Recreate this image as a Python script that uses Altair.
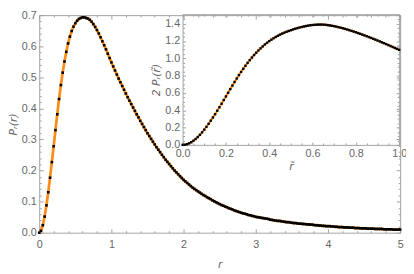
import altair as alt
import pandas as pd

# ---------------- data ----------------
r_main = [round(i * 0.025, 3) for i in range(201)]
p_main = [
    0.000, 0.006, 0.024, 0.052, 0.088, 0.130, 0.177, 0.227, 0.278, 0.330,
    0.381, 0.430, 0.475, 0.515, 0.551, 0.582, 0.609, 0.631, 0.649, 0.663,
    0.674, 0.682, 0.688, 0.691, 0.693, 0.693, 0.691, 0.689, 0.685, 0.679,
    0.671, 0.662, 0.652, 0.641, 0.629, 0.616, 0.603, 0.590, 0.576, 0.562,
    0.548, 0.535, 0.522, 0.509, 0.496, 0.484, 0.472, 0.460, 0.448, 0.436,
    0.425, 0.414, 0.403, 0.392, 0.381, 0.371, 0.360, 0.350, 0.340, 0.330,
    0.320, 0.311, 0.302, 0.293, 0.284, 0.275, 0.267, 0.259, 0.251, 0.243,
    0.235, 0.228, 0.221, 0.214, 0.207, 0.200, 0.194, 0.188, 0.182, 0.176,
    0.170, 0.165, 0.160, 0.155, 0.150, 0.145, 0.141, 0.137, 0.133, 0.129,
    0.125, 0.121, 0.118, 0.114, 0.111, 0.108, 0.104, 0.101, 0.098, 0.095,
    0.092, 0.089, 0.087, 0.084, 0.082, 0.079, 0.077, 0.075, 0.072, 0.070,
    0.068, 0.066, 0.064, 0.062, 0.061, 0.059, 0.057, 0.056, 0.054, 0.053,
    0.051, 0.050, 0.049, 0.048, 0.047, 0.046, 0.045, 0.044, 0.042, 0.041,
    0.040, 0.039, 0.038, 0.038, 0.037, 0.036, 0.035, 0.034, 0.034, 0.033,
    0.032, 0.031, 0.031, 0.030, 0.029, 0.029, 0.028, 0.028, 0.027, 0.027,
    0.026, 0.026, 0.025, 0.024, 0.024, 0.023, 0.023, 0.022, 0.022, 0.021,
    0.021, 0.021, 0.020, 0.020, 0.019, 0.019, 0.018, 0.018, 0.018, 0.017,
    0.017, 0.017, 0.016, 0.016, 0.016, 0.015, 0.015, 0.015, 0.014, 0.014,
    0.014, 0.014, 0.013, 0.013, 0.013, 0.013, 0.012, 0.012, 0.012, 0.012,
    0.012, 0.011, 0.011, 0.011, 0.011, 0.011, 0.010, 0.010, 0.010, 0.010,
    0.010,
]

r_inset = [round(i * 0.01, 2) for i in range(101)]
p_inset = [
    0.000, 0.002, 0.008, 0.018, 0.031, 0.048, 0.068, 0.091, 0.117, 0.145,
    0.176, 0.209, 0.244, 0.280, 0.317, 0.355, 0.395, 0.435, 0.476, 0.518,
    0.560, 0.602, 0.644, 0.686, 0.727, 0.767, 0.806, 0.843, 0.879, 0.914,
    0.947, 0.979, 1.009, 1.038, 1.065, 1.091, 1.115, 1.138, 1.160, 1.180,
    1.199, 1.216, 1.232, 1.247, 1.261, 1.274, 1.286, 1.297, 1.307, 1.316,
    1.325, 1.334, 1.342, 1.349, 1.356, 1.362, 1.368, 1.373, 1.378, 1.382,
    1.385, 1.387, 1.389, 1.390, 1.390, 1.389, 1.387, 1.384, 1.380, 1.376,
    1.371, 1.366, 1.360, 1.354, 1.347, 1.340, 1.333, 1.325, 1.317, 1.309,
    1.301, 1.292, 1.283, 1.274, 1.265, 1.256, 1.246, 1.236, 1.226, 1.216,
    1.206, 1.196, 1.185, 1.175, 1.164, 1.153, 1.142, 1.131, 1.120, 1.109,
    1.098,
]

main_x_major = [0, 1, 2, 3, 4, 5]
main_x_minor = [round(i * 0.2, 1) for i in range(26) if i % 5]
main_y_major = [round(i * 0.1, 1) for i in range(8)]
main_y_minor = [round(i * 0.02, 2) for i in range(36) if i % 5]
inset_x_major = [0.0, 0.2, 0.4, 0.6, 0.8, 1.0]
inset_x_minor = [round(i * 0.05, 2) for i in range(21) if i % 4]
inset_y_major = [0.0, 0.2, 0.4, 0.6, 0.8, 1.0, 1.2, 1.4]
inset_y_minor = [round(i * 0.05, 2) for i in range(31) if i % 4]

main_df = pd.DataFrame({"r": r_main, "p": p_main})
inset_df = pd.DataFrame({"rt": r_inset, "p2": p_inset})

# ---------------- style ----------------
W, H = 370, 223
INSET_BOTTOM = 133
INSET_LEFT = 147
GRAY = "#a0a0a0"
LABEL = "#666666"
ORANGE = "#FF8C1A"

MX = alt.Scale(domain=[0, 5], nice=False, zero=False)
MY = alt.Scale(domain=[0, 0.7], nice=False, zero=False)
IX = alt.Scale(domain=[0, 1], range=[INSET_LEFT, 369], nice=False, zero=False)
IY = alt.Scale(domain=[0, 1.51], range=[INSET_BOTTOM, -1], nice=False, zero=False)


def tick_axis(orient, values, size, offset):
    return alt.Axis(orient=orient, values=values, tickSize=size, offset=offset,
                    labels=False, domain=False, grid=False, title=None,
                    ticks=True, tickColor=GRAY, tickWidth=1)


def frame_axis(orient, offset):
    return alt.Axis(orient=orient, offset=offset, labels=False, ticks=False,
                    tickSize=0, domain=True, domainColor=GRAY, domainWidth=1,
                    grid=False, title=None)


def main_layer(mark, xaxis, yaxis):
    base = alt.Chart(main_df).mark_point(opacity=0, size=1) if mark is None else mark
    return base.encode(
        x=alt.X("r:Q", scale=MX, axis=xaxis),
        y=alt.Y("p:Q", scale=MY, axis=yaxis),
    )


def inset_layer(mark, xaxis, yaxis):
    base = alt.Chart(inset_df).mark_point(opacity=0, size=1) if mark is None else mark
    return base.encode(
        x=alt.X("rt:Q", scale=IX, axis=xaxis),
        y=alt.Y("p2:Q", scale=IY, axis=yaxis),
    )


IB_OFF = -(H - INSET_BOTTOM)

# ---- main plot ----
m_line = main_layer(
    alt.Chart(main_df).mark_line(color=ORANGE, strokeWidth=2.8),
    alt.Axis(orient="bottom", values=main_x_major, format="d", ticks=False,
             tickSize=0, domain=False, grid=False, labelPadding=6,
             labelFlush=False, title="r", titleFontStyle="italic",
             titlePadding=10),
    alt.Axis(orient="left", values=main_y_major, format=".1f", ticks=False,
             tickSize=0, domain=False, grid=False, labelPadding=3,
             labelFlush=False, title="Pᵣ(r)", titleFontStyle="italic",
             titlePadding=3),
)
m_pts = main_layer(
    alt.Chart(main_df).mark_square(size=7, color="black", opacity=1),
    tick_axis("bottom", main_x_major, 4, -4),
    tick_axis("left", main_y_major, 4, -4),
)
m_minor = main_layer(None, tick_axis("bottom", main_x_minor, 2, -2),
                     tick_axis("left", main_y_minor, 2, -2))
m_top = main_layer(None, tick_axis("top", main_x_major, 4, -4),
                   tick_axis("right", main_y_major, 4, -4))
m_top_minor = main_layer(None, tick_axis("top", main_x_minor, 2, -2),
                         tick_axis("right", main_y_minor, 2, -2))

# ---- inset ----
i_line = inset_layer(
    alt.Chart(inset_df).mark_line(color=ORANGE, strokeWidth=2.2),
    alt.Axis(orient="bottom", offset=IB_OFF, values=inset_x_major,
             format=".1f", ticks=False, tickSize=0, domain=True,
             domainColor=GRAY, domainWidth=1, grid=False, labelPadding=3,
             labelFlush=False, title="r\u0303", titleFontStyle="italic",
             titlePadding=2),
    alt.Axis(orient="left", offset=-INSET_LEFT, values=inset_y_major,
             format=".1f", ticks=False, tickSize=0, domain=True,
             domainColor=GRAY, domainWidth=1, grid=False, labelPadding=3,
             labelFlush=False, title="2 Pᵣ(r\u0303)", titleFontStyle="italic",
             titlePadding=3),
)
i_pts = inset_layer(
    alt.Chart(inset_df).mark_square(size=6, color="black", opacity=1),
    frame_axis("top", 1),
    frame_axis("right", -1),
)
i_major = inset_layer(None, tick_axis("bottom", inset_x_major, 3, IB_OFF - 3),
                      tick_axis("left", inset_y_major, 3, -INSET_LEFT - 3))
i_minor = inset_layer(None, tick_axis("bottom", inset_x_minor, 2, IB_OFF - 2),
                      tick_axis("left", inset_y_minor, 2, -INSET_LEFT - 2))
i_top = inset_layer(None, tick_axis("top", inset_x_major, 3, -2),
                    tick_axis("right", inset_y_major, 3, -4))
i_top_minor = inset_layer(None, tick_axis("top", inset_x_minor, 2, -1),
                          tick_axis("right", inset_y_minor, 2, -3))

chart = (
    alt.layer(m_line, m_pts, m_minor, m_top, m_top_minor,
              i_line, i_pts, i_major, i_minor, i_top, i_top_minor)
    .resolve_scale(x="independent", y="independent")
    .resolve_axis(x="independent", y="independent")
    .properties(width=W, height=H,
                padding={"left": 32, "top": 4, "right": 6, "bottom": 39},
                autosize=alt.AutoSizeParams(type="none"))
    .configure_view(stroke=GRAY, strokeWidth=1)
    .configure_axis(labelFont="Liberation Sans", labelFontSize=11,
                    labelColor=LABEL, titleFont="DejaVu Sans",
                    titleFontSize=11, titleColor=LABEL,
                    titleFontWeight="normal")
)

chart.save("out.html", embed_options={"renderer": "svg", "actions": False})
